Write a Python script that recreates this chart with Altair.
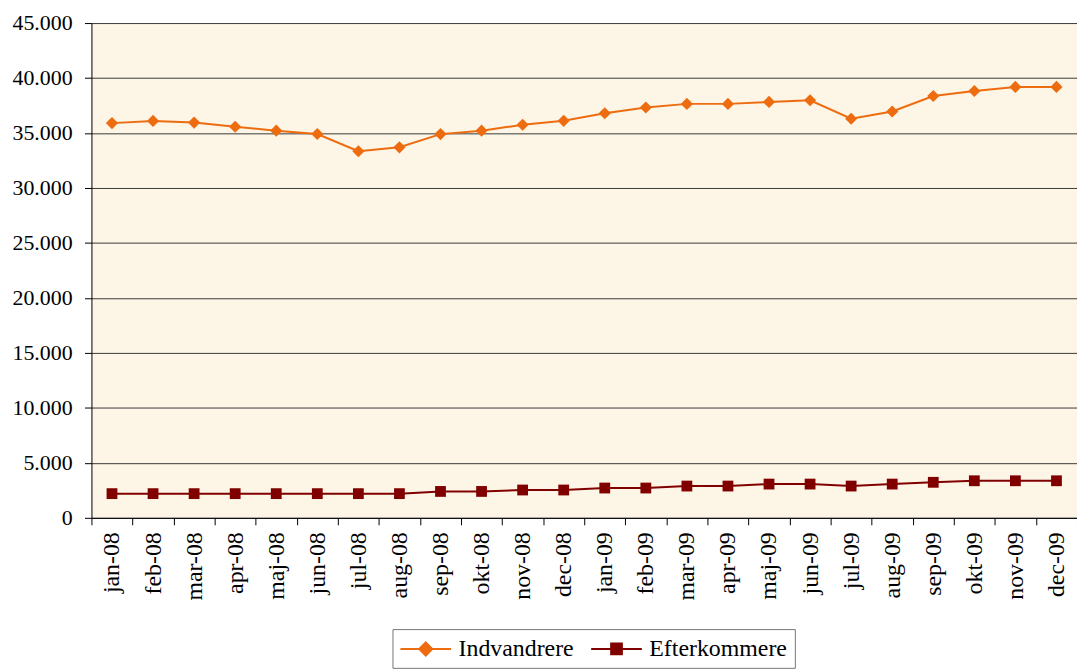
import altair as alt
import pandas as pd

months = ["jan-08", "feb-08", "mar-08", "apr-08", "maj-08", "jun-08", "jul-08", "aug-08",
          "sep-08", "okt-08", "nov-08", "dec-08", "jan-09", "feb-09", "mar-09", "apr-09",
          "maj-09", "jun-09", "jul-09", "aug-09", "sep-09", "okt-09", "nov-09", "dec-09"]

indvandrere = [35900, 36100, 35950, 35570, 35210, 34910, 33340, 33700, 34900, 35210, 35750, 36110,
               36800, 37320, 37650, 37650, 37830, 37980, 36300, 36960, 38370, 38820, 39190, 39190]

efterkommere = [2200, 2200, 2200, 2200, 2200, 2200, 2200, 2200, 2400, 2400, 2530, 2530,
                2710, 2710, 2890, 2890, 3070, 3070, 2890, 3070, 3230, 3370, 3370, 3370]

series_names = ["Indvandrere", "Efterkommere"]
series_colors = ["#EE6C10", "#800000"]

y_tick_values = [0, 5000, 10000, 15000, 20000, 25000, 30000, 35000, 40000, 45000]
y_tick_labels = ["0", "5.000", "10.000", "15.000", "20.000", "25.000", "30.000", "35.000",
                 "40.000", "45.000"]

df = pd.concat([
    pd.DataFrame({"month": months, "value": indvandrere, "series": series_names[0]}),
    pd.DataFrame({"month": months, "value": efterkommere, "series": series_names[1]}),
])
ticks_df = pd.DataFrame({"value": y_tick_values, "label": y_tick_labels})

FONT = "Liberation Serif"

x_enc = alt.X(
    "month:N", sort=months, bandPosition=0.5,
    scale=alt.Scale(type="band", domain=months, paddingInner=0, paddingOuter=0),
    axis=alt.Axis(title=None, labelAngle=-90, labelAlign="right", labelBaseline="middle",
                  labelFont=FONT, labelFontSize=24, labelPadding=7, labelColor="black",
                  tickBand="extent", ticks=True, tickSize=7,
                  grid=False, labelOverlap=False),
)
y_scale = alt.Scale(domain=[0, 45000], nice=False)
y_enc = alt.Y(
    "value:Q", scale=y_scale,
    axis=alt.Axis(title=None, values=y_tick_values, labels=False, tickSize=7,
                  grid=True, gridColor="#3a3a3a", gridWidth=1),
)

base = alt.Chart(df)

line_indv = base.transform_filter(alt.datum.series == series_names[0]).mark_line(
    color=series_colors[0], strokeWidth=2,
    point=alt.OverlayMarkDef(shape="diamond", size=150, filled=True, color=series_colors[0], opacity=1),
).encode(x=x_enc, y=y_enc)

line_eft = base.transform_filter(alt.datum.series == series_names[1]).mark_line(
    color=series_colors[1], strokeWidth=2,
    point=alt.OverlayMarkDef(shape="square", size=118, filled=True, color=series_colors[1], opacity=1),
).encode(x=x_enc, y=y_enc)

# y tick labels (Danish thousands separator), drawn as text on the y scale
y_labels = alt.Chart(ticks_df).mark_text(
    align="right", baseline="middle", font=FONT, fontSize=22, color="black",
).encode(
    x=alt.value(-19),
    y=alt.Y("value:Q", scale=y_scale),
    text="label:N",
)

# legend symbols: a short line with the marker in its middle (unit = 12 px)
legend_paths = [
    "M-2.125,0H2.125M0,-0.55L0.55,0L0,0.55L-0.55,0Z",
    "M-2.125,0H2.125M-0.45,-0.45H0.45V0.45H-0.45Z",
]

leg = alt.Legend(
    title=None, orient="none", direction="horizontal", legendX=303, legendY=610,
    labelFont=FONT, labelFontSize=24, labelColor="black", labelOffset=20,
    symbolSize=576, symbolStrokeWidth=2, symbolOffset=13.5, columnPadding=13,
    strokeColor="#777777", padding=7, symbolOpacity=1,
)

legend_layer = base.transform_filter("false").mark_point(filled=True).encode(
    x=x_enc, y=y_enc,
    fill=alt.Fill("series:N", scale=alt.Scale(domain=series_names, range=series_colors), legend=leg),
    stroke=alt.Stroke("series:N", scale=alt.Scale(domain=series_names, range=series_colors), legend=leg),
    shape=alt.Shape("series:N", scale=alt.Scale(domain=series_names, range=legend_paths), legend=leg),
)

chart = alt.layer(line_indv, line_eft, y_labels, legend_layer).properties(
    width=992, height=498,
    autosize=alt.AutoSizeParams(type="none"),
    padding={"left": 84, "top": 13, "right": 0, "bottom": 150},
).configure(font=FONT).configure_axis(
    labelFont=FONT, labelColor="black", tickColor="black",
    domainColor="black", domainWidth=1,
).configure_view(fill="#FDF5E6", stroke=None)

chart.save("out.html", embed_options={"renderer": "svg", "actions": False})
